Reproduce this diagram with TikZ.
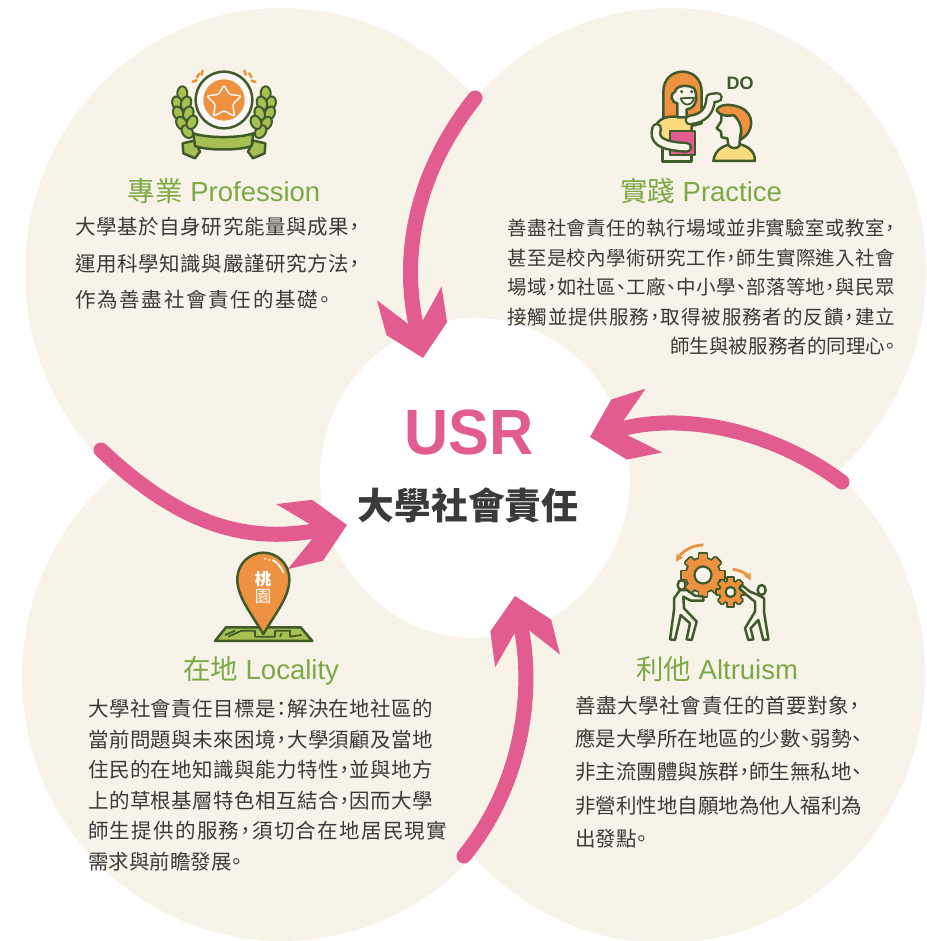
\documentclass[tikz,border=0pt]{standalone}
\usepackage{fontspec}
\usepackage{graphicx}
\usetikzlibrary{arrows.meta}
\setmainfont{Liberation Sans}
\newfontfamily\cjk[RawFeature=+palt]{Noto Sans CJK TC}
\newfontfamily\cjkplain{Noto Sans CJK TC}
\definecolor{cream}{HTML}{F7F3E8}
\definecolor{usrpink}{HTML}{E25C8F}
\definecolor{usrgreen}{HTML}{7CA945}
\definecolor{usrtext}{HTML}{3A3A3A}
\definecolor{dkgreen}{HTML}{3F5B2C}
\definecolor{usrorange}{HTML}{EE9140}
\definecolor{ltgreen}{HTML}{A8C052}
\definecolor{usryellow}{HTML}{F8DC7E}
\makeatletter
\newcommand\usrspread[1]{\@tfor\usr@c:=#1\do{\usr@c\hfil}\unskip}
\makeatother
\newcommand\jl[2]{\makebox[#1pt][s]{\rule{0pt}{16pt}\usrspread{#2}}}
\pgfdeclarearrow{
  name=USRHead,
  setup code={
    \pgfarrowssettipend{0pt}
    \pgfarrowssetlineend{-33pt}
    \pgfarrowssetvisualbackend{-33pt}
    \pgfarrowssetbackend{-66pt}
    \pgfarrowshullpoint{0pt}{0pt}
    \pgfarrowshullpoint{-66pt}{33pt}
    \pgfarrowshullpoint{-66pt}{-33pt}
  },
  drawing code={
    \pgfpathmoveto{\pgfpoint{0pt}{0pt}}
    \pgfpathlineto{\pgfpoint{-30pt}{31pt}}
    \pgfpathlineto{\pgfpoint{-66pt}{33pt}}
    \pgfpathlineto{\pgfpoint{-36pt}{7pt}}
    \pgfpathlineto{\pgfpoint{-36pt}{-7pt}}
    \pgfpathlineto{\pgfpoint{-66pt}{-33pt}}
    \pgfpathlineto{\pgfpoint{-30pt}{-31pt}}
    \pgfpathclose
    \pgfsetfillcolor{usrpink}
    \pgfusepathqfill
  },
  defaults={}
}
\newcommand\usrgear[6]{% cx cy rout rbody teeth hole
  \foreach \a in {1,...,#5}{
    \pgfmathsetmacro\ang{\a*360/#5}
    \path[draw=dkgreen,fill=dkgreen,line width=3.6pt,line join=round,rotate around={\ang:(#1,#2)}]
      ({#1-#3*0.17},{#2-#3}) rectangle ({#1+#3*0.17},{#2+#3});
  }
  \path[draw=dkgreen,fill=dkgreen,line width=3.6pt] (#1,#2) circle [radius=#4];
  \foreach \a in {1,...,#5}{
    \pgfmathsetmacro\ang{\a*360/#5}
    \fill[usrorange,rotate around={\ang:(#1,#2)}]
      ({#1-#3*0.17},{#2-#3}) rectangle ({#1+#3*0.17},{#2+#3});
  }
  \fill[usrorange] (#1,#2) circle [radius=#4];
  \path[draw=dkgreen,fill=cream,line width=2.2pt] (#1,#2) circle [radius=#6];
}
\tikzset{
  blob/.style={fill=cream,draw=none},
  flow/.style={draw=usrpink,line width=15pt,line cap=round,-{USRHead}},
  title/.style={text=usrgreen,font=\fontsize{27.5}{32}\selectfont,inner sep=0pt},
  body/.style={text=usrtext,align=left,anchor=north west,inner sep=0pt},
  ink/.style={draw=dkgreen,line width=2.5pt,line join=round,line cap=round},
  spark/.style={draw=usrorange,line width=2.5pt,line cap=round},
  icon/.style={x=0.3333pt,y=-0.3333pt},
}
\begin{document}
\begin{tikzpicture}[x=1pt,y=-1pt]
\useasboundingbox (0,0) rectangle (926,941);
\clip (0,0) rectangle (926,941);
% petals
\fill[blob] (282,272) ellipse [x radius=257,y radius=264];
\fill[blob] (669,272) ellipse [x radius=257,y radius=264];
\fill[blob] (282,677) ellipse [x radius=260,y radius=264];
\fill[blob] (665,675) ellipse [x radius=260,y radius=268];
\fill[white] (475,478) ellipse [x radius=155,y radius=160];
% centre text
\node (usr) [text=usrpink,font=\fontsize{64}{70}\selectfont\bfseries,inner sep=0pt] at (469,432) {\scalebox{0.955}[1]{USR}};
\node (usrzh) [text=usrtext,font=\fontsize{36.7}{42}\cjkplain\bfseries,inner sep=0pt] at (468,505) {大學社會責任};
% arrow ends
\coordinate (a1s) at (475,98);  \coordinate (a1t) at (423,358);
\coordinate (a2s) at (842,482); \coordinate (a2t) at (590,437);
\coordinate (a3s) at (101,450); \coordinate (a3t) at (347,525);
\coordinate (a4s) at (464,856); \coordinate (a4t) at (515,596);
\draw[flow] (a1s) .. controls (418,170) and (400,250) .. (a1t);
\draw[flow] (a2s) .. controls (775,432) and (687,412) .. (a2t);
\draw[flow] (a3s) .. controls (170,515) and (235,545) .. (a3t);
\draw[flow] (a4s) .. controls (522,785) and (534,694) .. (a4t);
% titles
\node (t1) [title] at (224,191) {{\cjk 專業} Profession};
\node (t2) [title] at (701,191) {{\cjk 實踐} Practice};
\node (t3) [title] at (261,671) {{\cjk 在地} Locality};
\node (t4) [title] at (717,669) {{\cjk 利他} Altruism};
% bodies
\node (b1) [body,font=\fontsize{20.5}{36.5}\cjk] at (75,217) {\jl{285}{大學基於自身研究能量與成果，}\\\jl{285}{運用科學知識與嚴謹研究方法，}\\\jl{255}{作為善盡社會責任的基礎。}};
\node (b2) [body,font=\fontsize{19.5}{29.5}\cjk] at (507,219) {\jl{388}{善盡社會責任的執行場域並非實驗室或教室，}\\\jl{388}{甚至是校內學術研究工作，師生實際進入社會}\\\jl{388}{場域，如社區、工廠、中小學、部落等地，與民眾}\\\jl{388}{接觸並提供服務，取得被服務者的反饋，建立}\\\hspace*{163pt}\jl{225}{師生與被服務者的同理心。}};
\node (b3) [body,font=\fontsize{20.5}{30.5}\cjk] at (88,699) {\jl{345}{大學社會責任目標是：解決在地社區的}\\\jl{345}{當前問題與未來困境，大學須顧及當地}\\\jl{345}{住民的在地知識與能力特性，並與地方}\\\jl{345}{上的草根基層特色相互結合，因而大學}\\\jl{359}{師生提供的服務，須切合在地居民現實}\\\jl{149}{需求與前瞻發展。}};
\node (b4) [body,font=\fontsize{20.5}{33.2}\cjk] at (575,696) {\jl{285}{善盡大學社會責任的首要對象，}\\\jl{285}{應是大學所在地區的少數、弱勢、}\\\jl{285}{非主流團體與族群，師生無私地、}\\\jl{285}{非營利性地自願地為他人福利為}\\\jl{65}{出發點。}};
% ---- medal icon
\begin{scope}[shift={(150,50)},icon]
  \draw[spark] (128,95)--(140,91) (141,82)--(148,71) (155,74)--(158,62);
  \draw[spark] (283,62)--(287,74) (298,70)--(304,82) (305,92)--(316,96);
  \path[ink,fill=white!60!cream] (222,150) circle [radius=85];
  \fill[usrorange] (222,150) circle [radius=62];
  \draw[draw=white!85!cream,line width=1.4pt,line join=round,rounded corners=1.5pt] (222,105)--(238,133)--(274,138)--(248,163)--(254,199)--(222,182)--(190,199)--(196,163)--(170,138)--(206,133)--cycle;
  \foreach \sx/\px/\py/\r in {1/97/130/0, 1/82/160/20, 1/85/190/25, 1/95/220/30, 1/112/245/35, 1/108/160/-20, 1/115/190/-20, 1/126/217/-25,
                              -1/97/130/0, -1/82/160/20, -1/85/190/25, -1/95/220/30, -1/112/245/35, -1/108/160/-20, -1/115/190/-20, -1/126/217/-25}{
    \pgfmathsetmacro\xx{\sx==1 ? \px : 444-\px}
    \pgfmathsetmacro\rr{\sx*\r}
    \path[ink,line width=2pt,fill=ltgreen,rotate around={\rr:(\xx,\py)}] (\xx,\py) ellipse [x radius=15,y radius=21];
  }
  \path[ink,fill=ltgreen] (98,280)--(133,272)--(150,305)--(135,325)--(100,310)--cycle;
  \path[ink,fill=ltgreen] (346,280)--(311,272)--(294,305)--(309,325)--(344,310)--cycle;
  \path[ink,fill=ltgreen] (130,250) .. controls (170,265) and (270,265) .. (310,250) -- (305,288) .. controls (270,302) and (170,302) .. (135,288) -- cycle;
\end{scope}
% ---- practice icon
\begin{scope}[shift={(640,60)},icon]
  \path[ink,fill=usrorange] (70,180) -- (70,95) .. controls (70,15) and (185,15) .. (185,95) -- (185,170) -- cycle;
  \path[ink,fill=usryellow] (40,225) .. controls (40,190) and (65,170) .. (95,170) -- (185,170) -- (185,190) -- (155,198) -- (155,270) -- (70,270) -- cycle;
  \path[ink,fill=cream] (68,262) rectangle (155,305);
  \path[ink,fill=cream] (112,172) -- (112,130) .. controls (90,125) and (90,100) .. (105,95) .. controls (110,70) and (160,75) .. (165,90) .. controls (175,120) and (165,145) .. (140,148) -- (140,172) -- cycle;
  \fill[dkgreen] (125,95) circle [radius=5] (155,95) circle [radius=5];
  \path[ink,line width=1.8pt,fill=white] (122,115) .. controls (130,142) and (158,138) .. (162,113) -- cycle;
  \path[ink,fill=usrpink] (90,213) rectangle (165,285);
  \draw[dkgreen,line width=11pt,line cap=round,line join=round] (150,180) .. controls (190,175) and (210,155) .. (212,115) -- (232,112);
  \draw[cream,line width=6pt,line cap=round,line join=round] (150,180) .. controls (190,175) and (210,155) .. (212,115) -- (232,112);
  \draw[dkgreen,line width=11pt,line cap=round,line join=round] (50,205) .. controls (40,240) and (60,258) .. (140,262);
  \draw[cream,line width=6pt,line cap=round,line join=round] (50,205) .. controls (40,240) and (60,258) .. (140,262);
  \path[ink,fill=usryellow] (220,303) .. controls (225,265) and (255,255) .. (285,250) .. controls (320,255) and (345,270) .. (345,303) -- cycle;
  \path[ink,fill=cream] (265,255) -- (262,235) -- (245,232) -- (243,215) -- (230,205) -- (243,185) -- (245,160) -- (310,170) -- (300,235) -- (298,258) .. controls (290,268) and (272,266) .. (265,255) -- cycle;
  \path[ink,fill=usrorange] (230,152) .. controls (235,130) and (275,132) .. (300,142) .. controls (345,160) and (345,215) .. (300,240) .. controls (310,210) and (300,180) .. (280,165) .. controls (265,170) and (240,168) .. (230,152) -- cycle;
\end{scope}
\node (doword) [text=dkgreen,font=\fontsize{18}{20}\selectfont\bfseries,inner sep=0pt] at (740,83) {DO};
% ---- pin icon
\begin{scope}[shift={(200,540)},icon]
  \path[ink,fill=ltgreen] (45,303)--(78,262)--(302,262)--(337,303)--cycle;
  \draw[dkgreen,line width=1.8pt,line join=round] (85,290)--(125,272)--(165,272)--(165,290)--(225,290)--(225,272)--(270,272)--(270,290)--(305,285) (105,272)--(75,285) (240,290)--(245,280);
  \path[ink,fill=usrorange] (190,282) .. controls (150,215) and (112,170) .. (112,118) .. controls (112,70) and (150,38) .. (190,38) .. controls (230,38) and (268,70) .. (268,118) .. controls (268,170) and (230,215) .. (190,282) -- cycle;
  \draw[white,line width=1.8pt,line cap=round] (218,60) .. controls (232,68) and (242,80) .. (250,97);
  \fill[white] (195,56) circle [radius=3.5] (208,60) circle [radius=3.5];
\end{scope}
\node (pin1) [text=white,font=\fontsize{16.5}{18}\cjkplain\bfseries,inner sep=0pt] at (263,579) {桃};
\node (pin2) [text=white,font=\fontsize{16.5}{18}\cjkplain,inner sep=0pt] at (263,597) {園};
% ---- gears icon
\begin{scope}[shift={(660,540)}]
  \usrgear{43}{35}{21}{16.5}{8}{8.5}
  \usrgear{70.5}{52}{14}{10.5}{8}{5}
\end{scope}
\begin{scope}[shift={(660,540)},icon]
  \draw[draw=usrorange,line width=2.8pt,-{Stealth[length=8pt,width=8pt]}] (130,15) .. controls (100,15) and (70,30) .. (48,65);
  \draw[draw=usrorange,line width=2.8pt,-{Stealth[length=8pt,width=8pt]}] (218,88) .. controls (240,90) and (262,102) .. (272,122);
  \path[ink,fill=cream] (60,150)--(80,150)--(105,167)--(130,170)--(130,182)--(92,182)--(70,170)--(72,205)--(110,245)--(95,300)--(80,298)--(90,250)--(62,225)--(45,300)--(30,298)--(42,210)--(42,175)--cycle;
  \path[ink,fill=cream] (65,135) ellipse [x radius=12,y radius=15];
  \path[ink,fill=cream] (295,165)--(270,155)--(245,135)--(238,145)--(260,165)--(285,185)--(285,215)--(255,265)--(265,300)--(280,298)--(272,265)--(295,240)--(310,300)--(325,298)--(312,215)--(312,175)--cycle;
  \path[ink,fill=cream] (305,150) ellipse [x radius=12,y radius=15];
\end{scope}
\end{tikzpicture}
\end{document}
